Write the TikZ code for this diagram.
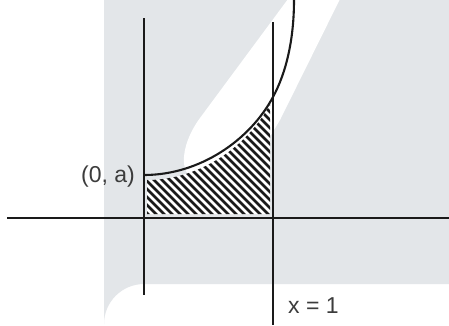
\documentclass[tikz,border=0pt]{standalone}
\usepackage{fontspec}
\setmainfont{Liberation Sans}
\definecolor{panel}{HTML}{E3E6E9}
\definecolor{ink}{HTML}{1A1A1A}
\begin{document}
\begin{tikzpicture}[x=1pt,y=-1pt,
  axis/.style={draw=ink,line width=2.5pt},
  curveline/.style={draw=ink,line width=2.1pt},
  hatchline/.style={draw=ink,line width=2.6pt},
  lbl/.style={font=\fontsize{23}{26}\selectfont,text=ink!85,inner sep=0pt}]
\useasboundingbox (0,0) rectangle (449,325);
% background panel and light streak
\fill[white] (0,0) rectangle (449,325);
\fill[panel] (104,0) -- (449,0) -- (449,284) -- (144,284) arc[start angle=90,end angle=180,radius=40pt] -- cycle;
\fill[white] (291,-5) -- (200,118) .. controls (178,148) and (178,182) .. (203,180) -- (262,150) -- (280,120) -- (342,-5) -- cycle;
% hatched region
\begin{scope}
\clip (147,180) .. controls (200,180) and (248,146) .. (270,104) -- (270,214) -- (147,214) -- cycle;
\fill[white] (140,90) rectangle (280,220);
\foreach \i in {-120,-112,...,300} \draw[hatchline] (\i,90) -- ++(140,140);
\end{scope}
% axes
\coordinate (ytop) at (144,18);
\coordinate (ybot) at (144,295);
\coordinate (xl) at (7,218);
\coordinate (xr) at (449,218);
\coordinate (ltop) at (273,22);
\coordinate (lbot) at (273,325);
\draw[axis] (xl) -- (xr);
\draw[axis] (ytop) -- (ybot);
\draw[axis] (ltop) -- (lbot);
% curve
\coordinate (A) at (144,175);
\coordinate (B) at (273,97);
\coordinate (C) at (294,0);
\draw[curveline] (A) .. controls (200,175) and (250,140) .. (B) .. controls (286,73) and (294,40) .. (C);
% labels
\node[lbl,anchor=east] (la) at (135,177) {(0, a)};
\node[lbl,anchor=west] (lx) at (288,306) {x = 1};
\end{tikzpicture}
\end{document}
